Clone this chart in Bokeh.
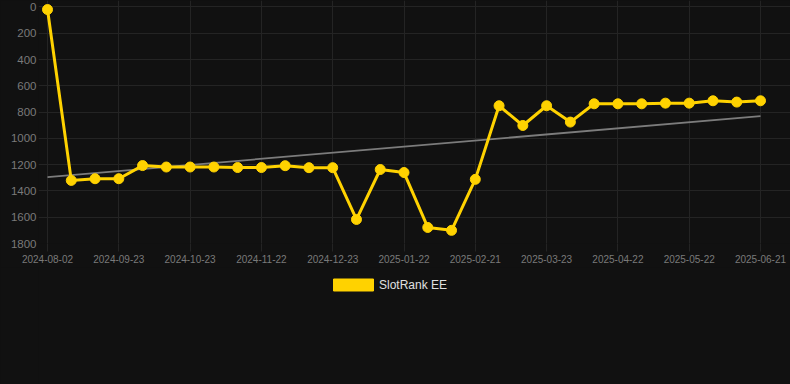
from bokeh.plotting import figure
from bokeh.layouts import column
from bokeh.models import (Range1d, FixedTicker, Legend, LegendItem, ColumnDataSource)
from bokeh.embed import file_html
from bokeh.resources import INLINE

# ---- data ----
rank_values = [20, 1320, 1307, 1307, 1207, 1218, 1218, 1218, 1222, 1222,
               1208, 1223, 1223, 1617, 1237, 1260, 1678, 1700, 1312, 752,
               902, 752, 876, 737, 737, 737, 732, 732, 714, 724, 714]
tick_positions = [0, 3, 6, 9, 12, 15, 18, 21, 24, 27, 30]
tick_labels = ["2024-08-02", "2024-09-23", "2024-10-23", "2024-11-22",
               "2024-12-23", "2025-01-22", "2025-02-21", "2025-03-23",
               "2025-04-22", "2025-05-22", "2025-06-21"]
trend_x = [0, 30]
trend_values = [1295, 831]
y_ticks = [0, 200, 400, 600, 800, 1000, 1200, 1400, 1600, 1800]
series_name = "SlotRank EE"

BG = "#111111"
YELLOW = "#FFD200"
GRID = "#242424"
TICK_TXT = "#7a7a7a"
FONT = "Liberation Sans"

x_idx = list(range(len(rank_values)))
src = ColumnDataSource(dict(x=x_idx, y=rank_values))

p = figure(width=790, height=267, output_backend="svg", toolbar_location=None,
           x_range=Range1d(-0.379, 31.262), y_range=Range1d(1800, -49),
           background_fill_color=BG, border_fill_color=BG,
           min_border_left=38, min_border_right=0, min_border_top=0,
           min_border_bottom=24, outline_line_color=None)

# grid
p.xgrid.grid_line_color = GRID
p.ygrid.grid_line_color = GRID
p.xgrid.grid_line_width = 1
p.ygrid.grid_line_width = 1

# axes
p.xaxis.ticker = FixedTicker(ticks=tick_positions)
p.xaxis.major_label_overrides = {t: l for t, l in zip(tick_positions, tick_labels)}
p.xaxis.axis_line_color = None
p.xaxis.major_tick_line_color = GRID
p.xaxis.major_tick_out = 8
p.xaxis.major_tick_in = 0
p.xaxis.minor_tick_line_color = None
p.xaxis.major_label_standoff = 3
p.xaxis.major_label_text_color = TICK_TXT
p.xaxis.major_label_text_font = FONT
p.xaxis.major_label_text_font_size = "10px"

p.yaxis.ticker = FixedTicker(ticks=y_ticks)
p.yaxis.axis_line_color = None
p.yaxis.major_tick_line_color = None
p.yaxis.major_tick_out = 0
p.yaxis.major_tick_in = 0
p.yaxis.minor_tick_line_color = None
p.yaxis.major_label_standoff = 2
p.yaxis.major_label_text_color = TICK_TXT
p.yaxis.major_label_text_font = FONT
p.yaxis.major_label_text_font_size = "11.5px"

# trend line
p.line(trend_x, trend_values, line_color="#7c7c7c", line_width=1.8)

# series
p.line("x", "y", source=src, line_color=YELLOW, line_width=3)
p.scatter("x", "y", source=src, size=10, fill_color=YELLOW, line_color=YELLOW)

# legend strip below the chart
lg = figure(width=790, height=117, output_backend="svg", toolbar_location=None,
            x_range=Range1d(0, 1), y_range=Range1d(0, 1),
            x_axis_type=None, y_axis_type=None,
            background_fill_color=BG, border_fill_color=BG,
            min_border_left=0, min_border_right=0, min_border_top=0,
            min_border_bottom=0, outline_line_color=None)
lg.xgrid.visible = False
lg.ygrid.visible = False
nan = float("nan")
swatch = lg.quad(left=[nan], right=[nan], top=[nan], bottom=[nan],
                 fill_color=YELLOW, line_color=YELLOW)
legend = Legend(items=[LegendItem(label=series_name, renderers=[swatch])],
                orientation="horizontal", location=(290, 92),
                glyph_width=50, glyph_height=15, label_height=15,
                label_standoff=1, padding=0, spacing=0, margin=0,
                background_fill_alpha=0, border_line_color=None,
                label_text_color="#e0e0e0", label_text_font=FONT,
                label_text_font_size="12px")
lg.add_layout(legend, "center")

layout = column(p, lg, spacing=0)
html = file_html(layout, INLINE)
html = html.replace("<head>", "<head><style>html,body{background:#111111;}</style>", 1)
open("out.html", "w").write(html)
